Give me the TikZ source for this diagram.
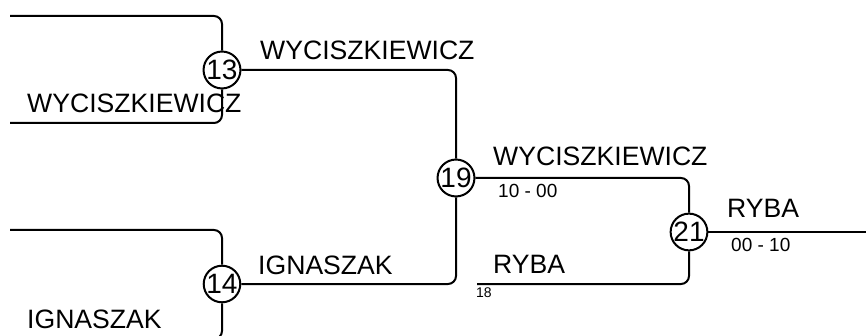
\documentclass[tikz,border=0pt]{standalone}
\usepackage{fontspec}
\setmainfont{Liberation Sans}
\usepackage{tikz}
\tikzstyle{match} = [circle,draw,line width=2pt,minimum size=36pt,inner sep=0pt,font=\fontsize{28}{30}\selectfont]
\tikzstyle{player} = [anchor=base west,inner sep=0pt,font=\fontsize{26.6}{30}\selectfont]
\tikzstyle{score} = [anchor=base west,inner sep=0pt,font=\fontsize{19}{22}\selectfont]
\tikzstyle{seed} = [anchor=base west,inner sep=0pt,font=\fontsize{14}{16}\selectfont]
\tikzstyle{wire} = [line width=2pt,rounded corners=8pt]

\begin{document}
\begin{tikzpicture}[x=1pt,y=-1pt]
\useasboundingbox (0,0) rectangle (866,336);
\node[match](m13) at(222,70){13};
\node[match](m14) at(222,284){14};
\node[match](m19) at(456,178){19};
\node[match](m21) at(689,232){21};
\coordinate (a1) at(10,16);
\coordinate (a2) at(10,123);
\coordinate (b1) at(10,230);
\coordinate (b2) at(10,339);
\coordinate (c2) at(477,284);
\coordinate (w) at(870,232);
\draw[wire](a1) -| (m13.north);
\draw[wire](a2) -| (m13.south);
\draw[wire](b1) -| (m14.north);
\draw[wire](b2) -| (m14.south);
\draw[wire](m13.east) -| (m19.north);
\draw[wire](m14.east) -| (m19.south);
\draw[wire](m19.east) -| (m21.north);
\draw[wire](c2) -| (m21.south);
\draw[wire](m21.east) -- (w);
\node[player](p1) at(27,113){WYCISZKIEWICZ};
\node[player](p2) at(27,328){IGNASZAK};
\node[player](p13) at(260,60){WYCISZKIEWICZ};
\node[player](p14) at(258,274){IGNASZAK};
\node[player](p19) at(493,166){WYCISZKIEWICZ};
\node[score](s19) at(498,198){10 - 00};
\node[player](p18) at(493,273){RYBA};
\node[seed](r18) at(476,298){18};
\node[player](p21) at(727,218){RYBA};
\node[score](s21) at(731,252){00 - 10};
\end{tikzpicture}
\end{document}
